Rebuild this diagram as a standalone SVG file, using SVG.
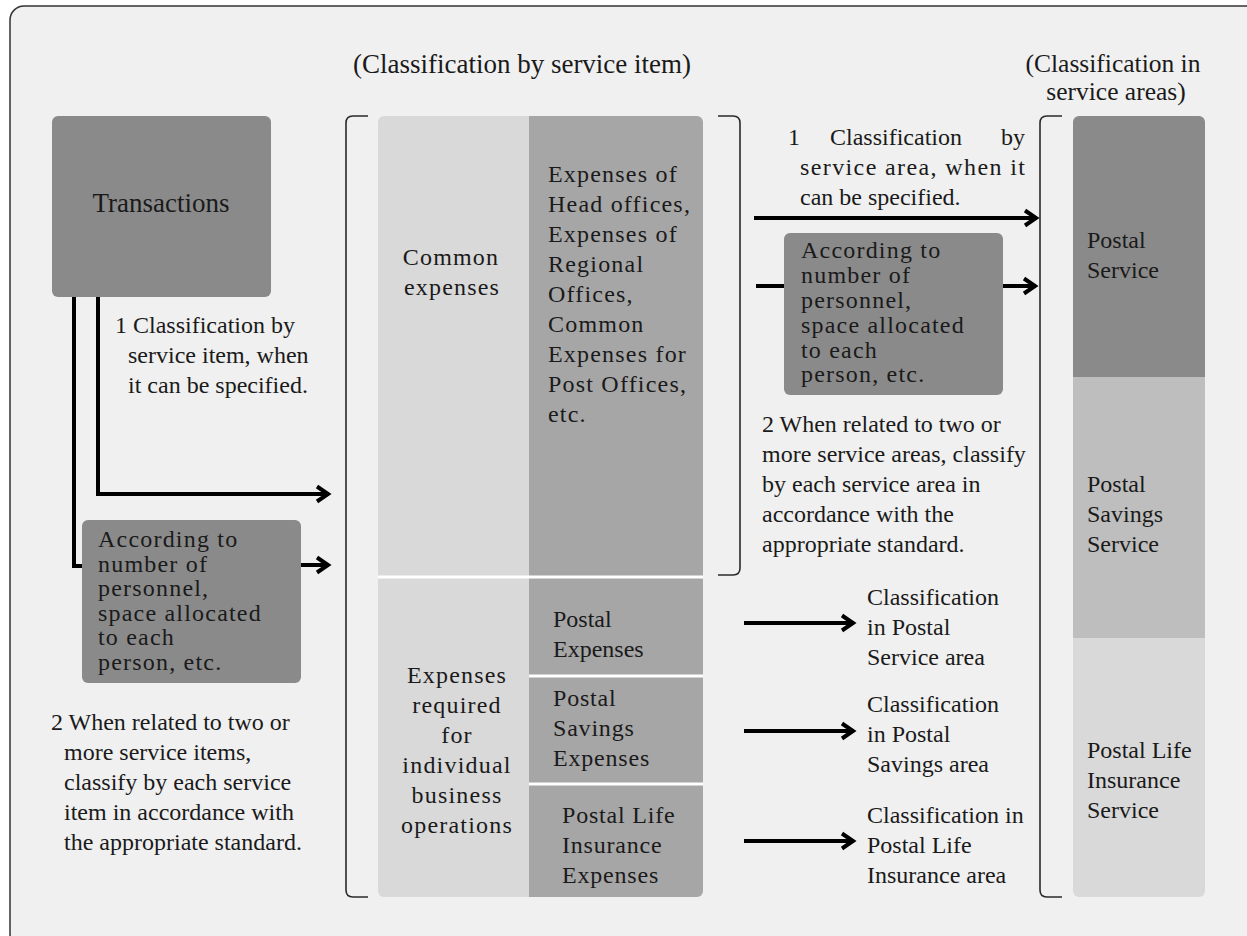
<svg xmlns="http://www.w3.org/2000/svg" width="1247" height="936" viewBox="0 0 1247 936">
  <style>
    text { font-family: "Liberation Serif", "Times New Roman", serif; fill: #1a1a1a; font-size: 24px; }
    .title { font-size: 27px; }
    .title2 { font-size: 25.5px; }
    .big { font-size: 27px; }
    .sp { letter-spacing: 1.2px; }
    .sp1 { letter-spacing: 0.8px; }
    .mid { text-anchor: middle; }
    .bracket { fill: none; stroke: #2a2a2a; stroke-width: 1.6; }
    .conn { fill: none; stroke: #000; stroke-width: 4; }
    .dark { fill: #8a8a8a; }
    .sep { stroke: #ffffff; stroke-width: 3; }
  </style>
  <defs>
    <marker id="chev" markerUnits="userSpaceOnUse" viewBox="0 0 18 20" markerWidth="18" markerHeight="20" refX="15" refY="10" orient="auto">
      <path d="M3,2.5 L14,10 L3,17.5" fill="none" stroke="#000" stroke-width="4" stroke-linejoin="miter"/>
    </marker>
    <clipPath id="clipMid"><rect x="378" y="116" width="325" height="781" rx="6"/></clipPath>
    <clipPath id="clipRight"><rect x="1073" y="116" width="132" height="781" rx="6"/></clipPath>
  </defs>

  <rect x="0" y="0" width="1247" height="936" fill="#ffffff"/>
  <g id="frame">
    <rect x="10" y="6" width="1252" height="942" rx="14" fill="#f0f0f0" stroke="#333" stroke-width="1.5"/>
  </g>

  <g id="title-service-item">
    <text class="title mid" x="522" y="73">(Classification by service item)</text>
  </g>
  <g id="title-service-areas">
    <text class="title2 mid" x="1113" y="72">(Classification in</text>
    <text class="title2 mid" x="1116" y="100">service areas)</text>
  </g>

  <g id="transactions">
    <rect class="dark" x="52" y="116" width="219" height="181" rx="6"/>
    <text class="big mid" x="161" y="212">Transactions</text>
  </g>

  <g id="note-left-1">
    <text x="115" y="333">1 Classification by</text>
    <text x="128" y="363">service item, when</text>
    <text x="128" y="393">it can be specified.</text>
  </g>

  <g id="alloc-left">
    <rect class="dark" x="82" y="520" width="219" height="163" rx="6"/>
    <text class="sp" x="98" y="547">According to</text>
    <text class="sp" x="98" y="571.5">number of</text>
    <text class="sp" x="98" y="596">personnel,</text>
    <text class="sp" x="98" y="620.5">space allocated</text>
    <text class="sp" x="98" y="645">to each</text>
    <text class="sp" x="98" y="669.5">person, etc.</text>
  </g>

  <g id="note-left-2">
    <text x="51" y="730">2 When related to two or</text>
    <text x="64" y="760">more service items,</text>
    <text x="64" y="790">classify by each service</text>
    <text x="64" y="820">item in accordance with</text>
    <text x="64" y="850">the appropriate standard.</text>
  </g>

  <g id="bracket-left">
    <path class="bracket" d="M368,116 H353 Q346,116 346,123 V890 Q346,897 353,897 H368"/>
  </g>

  <g id="expense-table" clip-path="url(#clipMid)">
    <rect x="378" y="116" width="151" height="781" fill="#d9d9d9"/>
    <rect x="529" y="116" width="174" height="781" fill="#a6a6a6"/>
    <line class="sep" x1="378" y1="577" x2="703" y2="577"/>
    <line class="sep" x1="529" y1="676" x2="703" y2="676"/>
    <line class="sep" x1="529" y1="784" x2="703" y2="784"/>
  </g>
  <g id="common-expenses">
    <text class="sp mid" x="451" y="265">Common</text>
    <text class="sp mid" x="452" y="295">expenses</text>
  </g>
  <g id="common-expenses-detail">
    <text class="sp" x="548" y="182">Expenses of</text>
    <text class="sp" x="548" y="212">Head offices,</text>
    <text class="sp" x="548" y="242">Expenses of</text>
    <text class="sp" x="548" y="272">Regional</text>
    <text class="sp" x="548" y="302">Offices,</text>
    <text class="sp" x="548" y="332">Common</text>
    <text class="sp" x="548" y="362">Expenses for</text>
    <text class="sp" x="548" y="392">Post Offices,</text>
    <text class="sp" x="548" y="422">etc.</text>
  </g>
  <g id="individual-expenses">
    <text class="sp mid" x="457" y="683">Expenses</text>
    <text class="sp mid" x="457" y="713">required</text>
    <text class="sp mid" x="457" y="743">for</text>
    <text class="sp mid" x="457" y="773">individual</text>
    <text class="sp mid" x="457" y="803">business</text>
    <text class="sp mid" x="457" y="833">operations</text>
  </g>
  <g id="postal-expenses">
    <text x="553" y="627">Postal</text>
    <text x="553" y="657">Expenses</text>
  </g>
  <g id="postal-savings-expenses">
    <text class="sp1" x="553" y="706">Postal</text>
    <text class="sp1" x="553" y="736">Savings</text>
    <text class="sp1" x="553" y="766">Expenses</text>
  </g>
  <g id="postal-life-expenses">
    <text class="sp1" x="562" y="823">Postal Life</text>
    <text class="sp1" x="562" y="853">Insurance</text>
    <text class="sp1" x="562" y="883">Expenses</text>
  </g>

  <g id="bracket-mid">
    <path class="bracket" d="M718,116 H733 Q740,116 740,123 V568 Q740,575 733,575 H718"/>
  </g>

  <g id="note-right-1">
    <text x="788" y="145">1</text>
    <text x="830" y="145">Classification</text>
    <text x="1025" y="145" text-anchor="end">by</text>
    <text x="800" y="175" textLength="225" lengthAdjust="spacing">service area, when it</text>
    <text x="800" y="205">can be specified.</text>
  </g>

  <g id="alloc-right">
    <rect class="dark" x="784" y="233" width="219" height="162" rx="6"/>
    <text class="sp" x="801" y="258">According to</text>
    <text class="sp" x="801" y="283">number of</text>
    <text class="sp" x="801" y="308">personnel,</text>
    <text class="sp" x="801" y="333">space allocated</text>
    <text class="sp" x="801" y="357.5">to each</text>
    <text class="sp" x="801" y="382">person, etc.</text>
  </g>

  <g id="note-right-2">
    <text x="762" y="432">2 When related to two or</text>
    <text x="762" y="462">more service areas, classify</text>
    <text x="762" y="492">by each service area in</text>
    <text x="762" y="522">accordance with the</text>
    <text x="762" y="552">appropriate standard.</text>
  </g>

  <g id="class-postal">
    <text x="867" y="605">Classification</text>
    <text x="867" y="635">in Postal</text>
    <text x="867" y="665">Service area</text>
  </g>
  <g id="class-savings">
    <text x="867" y="712">Classification</text>
    <text x="867" y="742">in Postal</text>
    <text x="867" y="772">Savings area</text>
  </g>
  <g id="class-life">
    <text x="867" y="823">Classification in</text>
    <text x="867" y="853">Postal Life</text>
    <text x="867" y="883">Insurance area</text>
  </g>

  <g id="bracket-right">
    <path class="bracket" d="M1062,116 H1047 Q1040,116 1040,123 V890 Q1040,897 1047,897 H1062"/>
  </g>

  <g id="service-areas" clip-path="url(#clipRight)">
    <rect x="1073" y="116" width="132" height="261" fill="#8a8a8a"/>
    <rect x="1073" y="377" width="132" height="261" fill="#bebebe"/>
    <rect x="1073" y="638" width="132" height="259" fill="#d9d9d9"/>
  </g>
  <g id="postal-service">
    <text x="1087" y="248">Postal</text>
    <text x="1087" y="278">Service</text>
  </g>
  <g id="postal-savings-service">
    <text x="1087" y="492">Postal</text>
    <text x="1087" y="522">Savings</text>
    <text x="1087" y="552">Service</text>
  </g>
  <g id="postal-life-service">
    <text x="1087" y="758">Postal Life</text>
    <text x="1087" y="788">Insurance</text>
    <text x="1087" y="818">Service</text>
  </g>

  <g id="connectors">
    <path class="conn" d="M74,297 V566 H82"/>
    <path class="conn" d="M98,297 V494 H329" marker-end="url(#chev)"/>
    <path class="conn" d="M301,565 H329" marker-end="url(#chev)"/>
    <path class="conn" d="M754,218 H1037" marker-end="url(#chev)"/>
    <path class="conn" d="M756,286 H784"/>
    <path class="conn" d="M1003,286 H1036" marker-end="url(#chev)"/>
    <path class="conn" d="M744,623 H854" marker-end="url(#chev)"/>
    <path class="conn" d="M744,731 H854" marker-end="url(#chev)"/>
    <path class="conn" d="M744,841 H854" marker-end="url(#chev)"/>
  </g>
</svg>
